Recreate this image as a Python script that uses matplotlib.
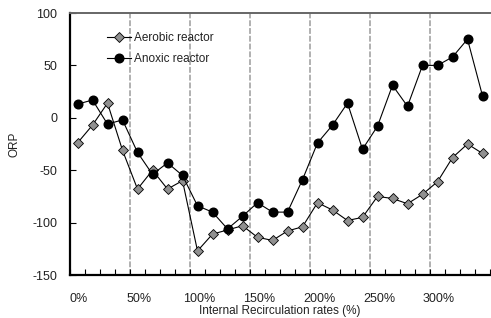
import matplotlib
matplotlib.use("Agg")
import matplotlib.pyplot as plt
import numpy as np

# ---- data ----
aerobic = [-24, -7, 14, -31, -68, -50, -68, -60, -127, -111, -107, -103, -114, -117,
           -108, -104, -81, -88, -98, -95, -75, -77, -82, -73, -61, -38, -25, -34]
anoxic = [13, 17, -6, -2, -33, -54, -43, -55, -84, -90, -106, -94, -81, -90,
          -90, -59, -24, -7, 14, -30, -8, 31, 11, 50, 50, 58, 75, 21]
group_labels = ["0%", "50%", "100%", "150%", "200%", "250%", "300%"]
points_per_group = 4
y_ticks = [-150, -100, -50, 0, 50, 100]

plt.rcParams['font.family'] = ['Liberation Sans', 'DejaVu Sans']
text_color = '#222222'

fig = plt.figure(figsize=(4.91, 3.18), dpi=100)
ax = fig.add_axes([70/491, 43/318, 420/491, 262/318])

n = len(anoxic)
x = np.arange(n)

# group separators
for b in range(points_per_group, n, points_per_group):
    ax.axvline(b - 0.5, color='#b0b0b0', lw=1.4, ls=(0, (3, 1)), zorder=1)

l_aer, = ax.plot(x, aerobic, color='black', lw=0.8, marker='D', markersize=4.6,
                 markerfacecolor='#909090', markeredgecolor='black', markeredgewidth=0.6,
                 zorder=3, label='Aerobic reactor')
l_an, = ax.plot(x, anoxic, color='black', lw=0.8, marker='o', markersize=6.2,
                markerfacecolor='black', markeredgecolor='black', zorder=4,
                label='Anoxic reactor')

ax.set_xlim(-0.5, n - 0.5)
ax.set_ylim(-150, 100)
ax.set_yticks(y_ticks)
ax.set_yticklabels([str(v) for v in y_ticks])
ax.set_xticks(np.arange(0, n, points_per_group) + 0.1)
ax.set_xticklabels(group_labels)
ax.set_xticks(np.arange(-0.5, n, 1), minor=True)

ax.tick_params(axis='x', which='major', length=0, pad=13, labelsize=9, colors=text_color)
ax.tick_params(axis='x', which='minor', direction='in', length=4, width=0.8, color='black')
ax.tick_params(axis='y', which='major', direction='in', length=4, width=0.8, color='black',
               pad=9, labelsize=9, labelcolor=text_color)

for s in ['left', 'bottom']:
    ax.spines[s].set_linewidth(1.6)
    ax.spines[s].set_color('black')
ax.spines['top'].set_linewidth(1.4)
ax.spines['top'].set_color('#666666')
ax.spines['right'].set_visible(False)

ax.set_ylabel('ORP', fontsize=8.5, color=text_color)
ax.yaxis.set_label_coords(-0.117, 0.5)
ax.set_xlabel('Internal Recirculation rates (%)', fontsize=8.5, color=text_color)
ax.xaxis.set_label_coords(0.5, -0.115)

leg = ax.legend(handles=[l_aer, l_an], loc='upper left', bbox_to_anchor=(0.077, 0.945),
                frameon=False, fontsize=8.5, handlelength=2.0, handletextpad=0.3,
                labelspacing=0.75, borderaxespad=0)
for t in leg.get_texts():
    t.set_color(text_color)

fig.savefig('out.png', dpi=100)
